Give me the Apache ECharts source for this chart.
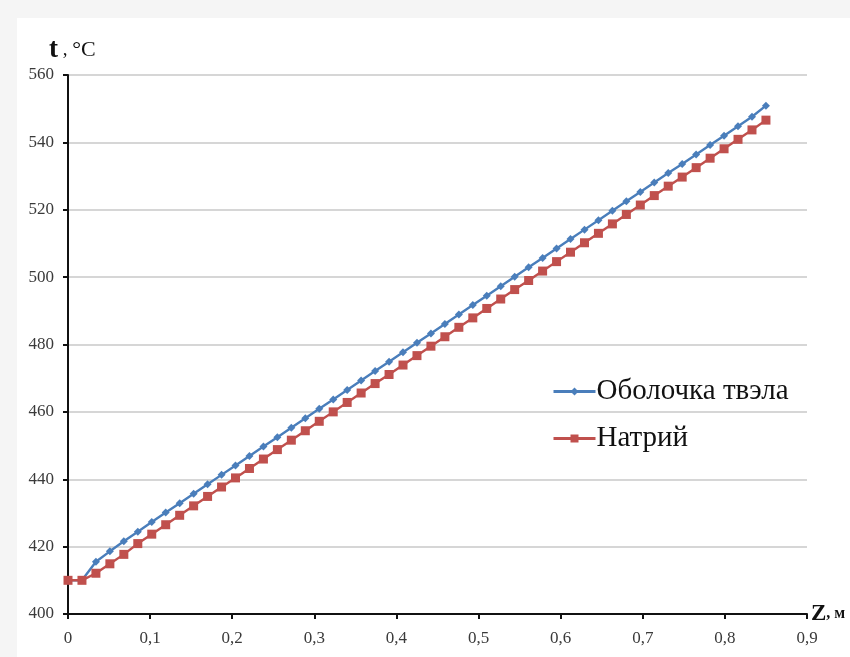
<!DOCTYPE html>
<html>
<head>
<meta charset="utf-8">
<style>
  html, body { margin: 0; padding: 0; background: #f5f5f5; }
  #chart { width: 850px; height: 657px; }
</style>
<script src="https://cdn.jsdelivr.net/npm/echarts@6/dist/echarts.min.js"></script>
</head>
<body>
<div id="chart"></div>
<script>
// Axial coordinate z, m
const zValues = [0, 0.017, 0.034, 0.051, 0.068, 0.085, 0.102, 0.119, 0.136, 0.153,
  0.17, 0.187, 0.204, 0.221, 0.238, 0.255, 0.272, 0.289, 0.306, 0.323,
  0.34, 0.357, 0.374, 0.391, 0.408, 0.425, 0.442, 0.459, 0.476, 0.493,
  0.51, 0.527, 0.544, 0.561, 0.578, 0.595, 0.612, 0.629, 0.646, 0.663,
  0.68, 0.697, 0.714, 0.731, 0.748, 0.765, 0.782, 0.799, 0.816, 0.833, 0.85];

// Cladding temperature, °C
const claddingTemp = [410, 410, 415.5, 418.6, 421.6, 424.4, 427.3, 430.1, 432.9, 435.7,
  438.5, 441.3, 444.1, 446.9, 449.7, 452.5, 455.3, 458.1, 460.9, 463.7,
  466.5, 469.3, 472.1, 474.9, 477.7, 480.5, 483.3, 486.1, 488.9, 491.7,
  494.5, 497.3, 500.1, 502.9, 505.7, 508.5, 511.3, 514.1, 516.9, 519.7,
  522.5, 525.3, 528.1, 530.9, 533.6, 536.4, 539.2, 542.0, 544.8, 547.6, 550.9];

// Sodium temperature, °C
const sodiumTemp = [410, 410, 412.1, 414.9, 417.7, 420.9, 423.7, 426.5, 429.3, 432.1,
  434.9, 437.7, 440.4, 443.2, 446.0, 448.8, 451.6, 454.4, 457.2, 460.0,
  462.8, 465.6, 468.4, 471.1, 473.9, 476.7, 479.5, 482.3, 485.1, 487.9,
  490.7, 493.5, 496.3, 499.0, 501.8, 504.6, 507.4, 510.2, 513.0, 515.8,
  518.6, 521.4, 524.2, 527.0, 529.7, 532.5, 535.3, 538.1, 540.9, 543.7, 546.6];

const seriesNames = ['Оболочка твэла', 'Натрий'];

const serif = '"Liberation Serif", "Times New Roman", serif';

const pairs = (ys) => zValues.map((z, i) => [z, ys[i]]);

const chart = echarts.init(document.getElementById('chart'), null, { renderer: 'canvas' });

chart.setOption({
  backgroundColor: '#f5f5f5',
  animation: false,
  graphic: [
    {
      type: 'rect',
      z: -10,
      shape: { x: 17, y: 18, width: 833, height: 639 },
      style: { fill: '#ffffff' }
    },
    {
      type: 'text',
      left: 49,
      top: 37,
      style: {
        text: '{t|t}{s| , }{c|°C}',
        rich: {
          t: { fontFamily: serif, fontWeight: 'bold', fontSize: 27, fill: '#111' },
          s: { fontFamily: serif, fontSize: 19, fill: '#111' },
          c: { fontFamily: serif, fontSize: 22, fill: '#111' }
        }
      }
    }
  ],
  grid: { left: 68, right: 43, top: 75, bottom: 43, containLabel: false },
  legend: {
    orient: 'vertical',
    left: 547,
    top: 372,
    itemWidth: 42,
    itemHeight: 10,
    itemGap: 18,
    data: seriesNames,
    lineStyle: { width: 3 },
    textStyle: { fontFamily: serif, fontSize: 29, color: '#111', padding: [0, 0, 0, -4] }
  },
  xAxis: {
    type: 'value',
    min: 0,
    max: 0.9,
    interval: 0.1,
    name: '{z|Z}{m|, м}',
    nameLocation: 'end',
    nameGap: 4,
    nameTextStyle: {
      rich: {
        z: { fontFamily: serif, fontWeight: 'bold', fontSize: 23, color: '#111' },
        m: { fontFamily: serif, fontWeight: 'bold', fontSize: 16, color: '#111' }
      }
    },
    axisLine: { show: true, lineStyle: { color: '#111', width: 2 } },
    axisTick: { show: true, length: 5, lineStyle: { color: '#111', width: 2 } },
    axisLabel: {
      margin: 16,
      fontFamily: serif,
      fontSize: 17,
      color: '#3a3a3a',
      formatter: (v) => (Math.round(v * 10) / 10).toString().replace('.', ',')
    },
    splitLine: { show: false }
  },
  yAxis: {
    type: 'value',
    min: 400,
    max: 560,
    interval: 20,
    axisLine: { show: true, lineStyle: { color: '#111', width: 2 } },
    axisTick: { show: true, length: 5, lineStyle: { color: '#111', width: 2 } },
    axisLabel: {
      margin: 14,
      fontFamily: serif,
      fontSize: 17,
      color: '#3a3a3a'
    },
    splitLine: { show: true, lineStyle: { color: '#c8c8c8', width: 1.5 } }
  },
  series: [
    {
      name: seriesNames[0],
      type: 'line',
      data: pairs(claddingTemp),
      symbol: 'diamond',
      symbolSize: 8,
      color: '#4a7ebb',
      lineStyle: { width: 2.4, color: '#4a7ebb' },
      itemStyle: { color: '#4a7ebb' },
      z: 3
    },
    {
      name: seriesNames[1],
      type: 'line',
      data: pairs(sodiumTemp),
      symbol: 'rect',
      symbolSize: 9,
      color: '#c0504d',
      lineStyle: { width: 2.4, color: '#c0504d' },
      itemStyle: { color: '#c0504d' },
      z: 4
    }
  ]
});
</script>
</body>
</html>
